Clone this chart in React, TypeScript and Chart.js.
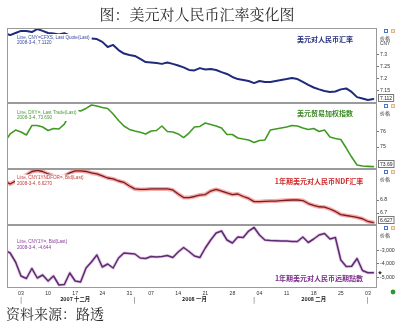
import React, { useEffect, useRef } from "react";
import { Chart, registerables } from "chart.js";

Chart.register(...registerables);

// Business days (2007-11-28 .. 2008-03-04), MM-DD
const dates = [
  "11-28", "11-29", "11-30", "12-03", "12-04", "12-05", "12-06", "12-07", "12-10", "12-11",
  "12-12", "12-13", "12-14", "12-17", "12-18", "12-19", "12-20", "12-21", "12-24", "12-25",
  "12-26", "12-27", "12-28", "12-31", "01-02", "01-03", "01-04", "01-07", "01-08", "01-09",
  "01-10", "01-11", "01-14", "01-15", "01-16", "01-17", "01-18", "01-21", "01-22", "01-23",
  "01-24", "01-25", "01-28", "01-29", "01-30", "01-31", "02-01", "02-04", "02-05", "02-06",
  "02-07", "02-08", "02-11", "02-12", "02-13", "02-14", "02-15", "02-18", "02-19", "02-20",
  "02-21", "02-22", "02-25", "02-26", "02-27", "02-28", "02-29", "03-03", "03-04",
];

const usdCny = [
  7.394, 7.385, 7.394, 7.403, 7.403, 7.398, 7.411, 7.403, 7.394, 7.392,
  7.388, 7.393, 7.384, 7.382, 7.379, 7.375, 7.37, 7.368, 7.356, 7.334,
  7.343, 7.321, 7.306, 7.3, 7.296, 7.283, 7.27, 7.268, 7.266, 7.262,
  7.268, 7.262, 7.255, 7.247, 7.236, 7.234, 7.244, 7.238, 7.24, 7.236,
  7.227, 7.219, 7.206, 7.197, 7.193, 7.189, 7.18, 7.189, 7.185, 7.185,
  7.189, 7.193, 7.197, 7.202, 7.197, 7.185, 7.172, 7.161, 7.153, 7.146,
  7.142, 7.144, 7.153, 7.157, 7.142, 7.12, 7.114, 7.108, 7.112,
];

const dollarIndex = [
  75.33, 75.87, 76.13, 76.0, 75.8, 76.43, 76.43, 76.33, 76.1, 76.23,
  76.2, 76.53, 77.2, 77.47, 77.4, 77.57, 77.8, 77.73, 77.63, 77.57,
  77.2, 76.77, 76.4, 76.17, 76.07, 75.98, 75.87, 76.07, 76.1, 76.4,
  76.03, 76.0, 75.87, 75.63, 75.93, 76.33, 76.37, 76.6, 76.5, 76.4,
  76.27, 75.83, 75.83, 75.6, 75.53, 75.47, 75.3, 75.43, 75.47, 76.13,
  76.2, 76.27, 76.33, 76.43, 76.4, 76.27, 76.17, 76.23, 76.03, 76.13,
  75.67, 75.57, 75.5, 74.93, 74.33, 73.8, 73.73, 73.71, 73.69,
];

const ndf1y = [
  6.946, 6.923, 6.946, 6.969, 6.992, 7.019, 7.027, 7.019, 7.0, 6.985,
  6.977, 6.985, 7.008, 7.023, 7.023, 7.019, 7.008, 7.0, 6.985, 6.969,
  6.962, 6.946, 6.935, 6.908, 6.885, 6.881, 6.882, 6.885, 6.885, 6.885,
  6.885, 6.877, 6.846, 6.819, 6.819, 6.827, 6.838, 6.842, 6.869, 6.881,
  6.869, 6.854, 6.842, 6.846, 6.827, 6.812, 6.788, 6.787, 6.79, 6.792,
  6.792, 6.796, 6.798, 6.8, 6.8, 6.796, 6.773, 6.758, 6.748, 6.746,
  6.731, 6.712, 6.688, 6.681, 6.675, 6.667, 6.656, 6.635, 6.627,
];

const fwdPoints1y = [
  -2963, -3185, -3852, -4889, -5074, -4333, -5037, -4815, -5259, -4889,
  -5556, -5519, -4667, -5259, -5333, -4296, -3852, -3333, -4222, -4000,
  -4296, -3556, -3185, -3222, -3259, -3556, -3593, -3444, -3481, -3444,
  -3370, -3519, -3111, -2778, -3074, -3407, -3519, -2815, -2222, -1704,
  -1556, -2222, -2444, -2000, -2037, -1556, -1296, -1852, -2222, -2259,
  -2274, -2296, -2296, -2333, -2333, -2000, -2407, -2148, -1852, -1741,
  -2148, -2037, -3704, -4185, -4170, -3593, -4481, -4644, -4644,
];

// X axis labels
const dayTickDates = ["12-03", "12-10", "12-17", "12-24", "12-31", "01-07", "01-14", "01-21", "01-28", "02-04", "02-11", "02-18", "02-25", "03-03"];
const monthLabels = ["2007 十二月", "2008 一月", "2008 二月"];
const monthLabelDates = ["12-17", "01-17", "02-18"];
const monthStartDates = ["12-03", "01-02", "02-01", "03-03"];

// Y axis ticks
const usdTicks = [7.3, 7.25, 7.2, 7.15];
const usdTickLabels = ["7.3", "7.25", "7.2", "7.15"];
const dxyTicks = [76, 75];
const dxyTickLabels = ["76", "75"];
const ndfTicks = [6.8, 6.7];
const ndfTickLabels = ["6.8", "6.7"];
const fwdTicks = [-3000, -4000, -5000];
const fwdTickLabels = ["-3,000", "-4,000", "-5,000"];

// Panel texts
const seriesCodes = [
  "Line, CNY=CFXS, Last Quote(Last)",
  "Line, DXY=, Last Trade(Last)",
  "Line, CNY1YNDFOR=, Bid(Last)",
  "Line, CNY1Y=, Bid(Last)",
];
const panelTitles = ["美元对人民币汇率", "美元贸易加权指数", "1年期美元对人民币NDF汇率", "1年期美元对人民币远期點數"];
const lastDate = "2008-3-4";
const chartTitle = "图：美元对人民币汇率变化图";
const sourceNote = "资料来源：路透";

const FONT = '"Liberation Sans", Arial, sans-serif';
const CJK = '"Noto Sans CJK SC", sans-serif';

const idxOf = (d: string) => dates.indexOf(d);
const X_MIN = 0.42;
const X_MAX = 68.68;

const seriesColors = ["#1f2a7c", "#3f9a24", "#7a1c1c", "#5e2a70"];
const titleColors = ["#26307f", "#3c8a26", "#d02a2a", "#7a2a8a"];
const headerColors = ["#3a48a0", "#4a9a36", "#c03a3a", "#8a3a9a"];

const panelLayout = [
  { title: [325, 11], box: [11, 6], lines: [9.5, 15] },
  { title: [325, 10], box: [11, 5], lines: [9.5, 15] },
  { title: [319, 12.5], box: [11, 5.5], lines: [8.5, 15] },
  { title: [319, 53], box: [11, 13], lines: [17, 23] },
];

const fmtLast = (i: number) => {
  if (i === 0) return usdCny[usdCny.length - 1].toFixed(4);
  if (i === 1) return dollarIndex[dollarIndex.length - 1].toFixed(3);
  if (i === 2) return ndf1y[ndf1y.length - 1].toFixed(4);
  return fwdPoints1y[fwdPoints1y.length - 1].toLocaleString("en-US");
};
const boxLast = (i: number) => {
  if (i === 0) return usdCny[usdCny.length - 1].toFixed(3);
  if (i === 1) return dollarIndex[dollarIndex.length - 1].toFixed(2);
  if (i === 2) return ndf1y[ndf1y.length - 1].toFixed(3);
  return "";
};
const lastVals = () => [
  usdCny[usdCny.length - 1],
  dollarIndex[dollarIndex.length - 1],
  ndf1y[ndf1y.length - 1],
  fwdPoints1y[fwdPoints1y.length - 1],
];

const panelPlugin = {
  id: "panels",
  afterDraw(chart: any) {
    const ctx = chart.ctx as CanvasRenderingContext2D;
    const ca = chart.chartArea;
    const ids = ["y1", "y2", "y3", "y4"];
    const lv = lastVals();
    ctx.save();
    ids.forEach((id, i) => {
      const s = chart.scales[id];
      const top = Math.round(s.top);
      const bottom = Math.round(s.bottom);
      const lay = panelLayout[i];
      // header box
      ctx.font = `4.6px ${FONT}`;
      const l1 = seriesCodes[i];
      const l2 = `${lastDate}, ${fmtLast(i)}`;
      const w = Math.max(ctx.measureText(l1).width, ctx.measureText(l2).width) + 4;
      const bx = ca.left + lay.box[0] - 7;
      const by = top + lay.box[1];
      ctx.fillStyle = "#ffffff";
      ctx.fillRect(bx + 4, by, w, 13);
      ctx.fillStyle = headerColors[i];
      ctx.textAlign = "left";
      ctx.textBaseline = "middle";
      ctx.fillText(l1, bx + 6, top + lay.lines[0]);
      ctx.fillText(l2, bx + 6, top + lay.lines[1]);
      // panel title
      ctx.font = `bold 7px ${CJK}`;
      ctx.fillStyle = titleColors[i];
      ctx.textAlign = "center";
      ctx.fillText(panelTitles[i], lay.title[0], top + lay.title[1]);
      // border
      ctx.strokeStyle = "#9a9a9a";
      ctx.lineWidth = 1;
      ctx.strokeRect(Math.round(ca.left) + 0.5, top + 0.5, Math.round(ca.right - ca.left) - 1, bottom - top - 1);
      // price label
      ctx.font = `5px ${CJK}`;
      ctx.fillStyle = "#333";
      ctx.textAlign = "left";
      ctx.fillText("价格", s.left + 3, top + 10);
      if (i === 0) {
        ctx.font = `4.8px ${FONT}`;
        ctx.fillText("CNY", s.left + 3, top + 16);
      }
      // icons
      ctx.fillStyle = "#4a74c4";
      ctx.fillRect(s.left + 7, top + 1, 4, 4);
      ctx.fillStyle = "#ffffff";
      ctx.fillRect(s.left + 8, top + 2, 2, 2);
      ctx.fillStyle = "#d8b890";
      ctx.fillRect(s.left + 14, top + 1, 4, 4);
      ctx.fillStyle = "#f4ead8";
      ctx.fillRect(s.left + 15, top + 2, 2, 2);
      // last value marker / box
      const yv = s.getPixelForValue(lv[i]);
      if (i < 3) {
        const txt = boxLast(i);
        ctx.font = `5px ${FONT}`;
        const tw = ctx.measureText(txt).width + 3;
        const cy = Math.min(Math.max(yv, top + 4), bottom - 5);
        ctx.fillStyle = "#ffffff";
        ctx.fillRect(s.left + 1.5, cy - 3.5, tw, 7);
        ctx.strokeStyle = "#777";
        ctx.strokeRect(s.left + 1.5, cy - 3.5, tw, 7);
        ctx.fillStyle = "#222";
        ctx.fillText(txt, s.left + 3, cy + 0.3);
      } else {
        ctx.fillStyle = "#333";
        ctx.beginPath();
        ctx.moveTo(s.left + 3, yv - 1.8);
        ctx.lineTo(s.left + 4.8, yv);
        ctx.lineTo(s.left + 3, yv + 1.8);
        ctx.lineTo(s.left + 1.2, yv);
        ctx.closePath();
        ctx.fill();
      }
    });
    // green status dot
    ctx.fillStyle = "#2a9a2a";
    ctx.beginPath();
    ctx.arc(393, 292, 2.4, 0, Math.PI * 2);
    ctx.fill();
    ctx.restore();
  },
};

const yAxis = (min: number, max: number, weight: number, ticks: number[], labels: string[]) => ({
  type: "linear",
  position: "right",
  stack: "panels",
  stackWeight: weight,
  min,
  max,
  offset: false,
  grid: { drawOnChartArea: false, drawTicks: true, tickLength: 2, color: "#777" },
  border: { display: false },
  afterBuildTicks: (s: any) => {
    s.ticks = ticks.map((v) => ({ value: v }));
  },
  ticks: {
    autoSkip: false,
    padding: 1,
    font: { size: 5.2, family: FONT },
    color: "#333",
    callback: (_v: any, i: number) => labels[i],
  },
  afterFit: (s: any) => {
    s.width = 23;
  },
});

export default function App() {
  const ref = useRef<HTMLCanvasElement>(null);
  useEffect(() => {
    const pts = (arr: number[]) => arr.map((v, i) => ({ x: i, y: v }));
    const dayIdx = dayTickDates.map(idxOf);
    const dayLbl = dayTickDates.map((d) => d.slice(3));
    const mEntries = [
      ...monthStartDates.map((d) => ({ pos: idxOf(d), text: "|", bold: false })),
      ...monthLabelDates.map((d, i) => ({ pos: idxOf(d), text: monthLabels[i], bold: true })),
    ].sort((a, b) => a.pos - b.pos);

    const chart = new Chart(ref.current as HTMLCanvasElement, {
      type: "line",
      data: {
        datasets: [
          { data: pts(usdCny), yAxisID: "y1", borderColor: seriesColors[0], borderWidth: 2, order: 0 },
          { data: pts(dollarIndex), yAxisID: "y2", borderColor: seriesColors[1], borderWidth: 1.6, order: 0 },
          { data: pts(ndf1y), yAxisID: "y3", borderColor: seriesColors[2], borderWidth: 1.3, order: 0 },
          { data: pts(ndf1y), yAxisID: "y3", borderColor: "rgba(238,100,100,0.55)", borderWidth: 4, order: 1 },
          { data: pts(fwdPoints1y), yAxisID: "y4", borderColor: seriesColors[3], borderWidth: 1.5, order: 0 },
          { data: pts(fwdPoints1y), yAxisID: "y4", borderColor: "rgba(200,150,210,0.5)", borderWidth: 3.2, order: 1 },
        ],
      },
      options: {
        animation: false,
        responsive: false,
        events: [],
        plugins: { legend: { display: false }, tooltip: { enabled: false } },
        layout: { padding: { left: 7, top: 28, right: 0, bottom: 25 } },
        elements: { point: { radius: 0 }, line: { tension: 0, borderJoinStyle: "round", borderCapStyle: "round" } },
        scales: {
          x: {
            type: "linear",
            position: "bottom",
            min: X_MIN,
            max: X_MAX,
            grid: { display: false, drawTicks: false },
            border: { display: false },
            afterBuildTicks: (s: any) => {
              s.ticks = dayIdx.map((v) => ({ value: v }));
            },
            ticks: {
              autoSkip: false,
              maxRotation: 0,
              minRotation: 0,
              padding: 2,
              font: { size: 5.2, family: FONT },
              color: "#333",
              callback: (_v: any, i: number) => dayLbl[i],
            },
            afterFit: (s: any) => {
              s.height = 8;
            },
          },
          x2: {
            type: "linear",
            position: "bottom",
            min: X_MIN,
            max: X_MAX,
            grid: { display: false, drawTicks: false },
            border: { display: false },
            afterBuildTicks: (s: any) => {
              s.ticks = mEntries.map((e) => ({ value: e.pos }));
            },
            ticks: {
              autoSkip: false,
              maxRotation: 0,
              minRotation: 0,
              padding: 0,
              font: (c: any) => ({
                size: mEntries[c.index] && mEntries[c.index].bold ? 5.4 : 6,
                weight: mEntries[c.index] && mEntries[c.index].bold ? "bold" : "normal",
                family: CJK,
              }),
              color: "#222",
              callback: (_v: any, i: number) => mEntries[i].text,
            },
            afterFit: (s: any) => {
              s.height = 8;
            },
          },
          y1: yAxis(7.0948, 7.4154, 75, usdTicks, usdTickLabels),
          y2: yAxis(73.567, 77.933, 65.5, dxyTicks, dxyTickLabels),
          y3: yAxis(6.608, 7.042, 56.5, ndfTicks, ndfTickLabels),
          y4: yAxis(-5778, -1111, 63, fwdTicks, fwdTickLabels),
        } as any,
      },
      plugins: [panelPlugin],
    } as any);
    return () => chart.destroy();
  }, []);

  return (
    <div style={{ position: "fixed", left: 0, top: 0, width: 400, height: 329, background: "#fff", overflow: "hidden" }}>
      <canvas ref={ref} width={400} height={329} style={{ position: "absolute", left: 0, top: 0, width: 400, height: 329 }} />
      <div
        style={{
          position: "absolute",
          left: 0,
          top: 5,
          width: 394,
          textAlign: "center",
          fontFamily: '"Noto Serif CJK SC", "Noto Sans CJK SC", serif',
          fontSize: 15,
          lineHeight: "18px",
          color: "#2a2a2a",
        }}
      >
        {chartTitle}
      </div>
      <div
        style={{
          position: "absolute",
          left: 6,
          top: 305,
          fontFamily: '"Noto Serif CJK SC", "Noto Sans CJK SC", serif',
          fontSize: 14,
          lineHeight: "16px",
          color: "#2a2a2a",
        }}
      >
        {sourceNote}
      </div>
    </div>
  );
}
